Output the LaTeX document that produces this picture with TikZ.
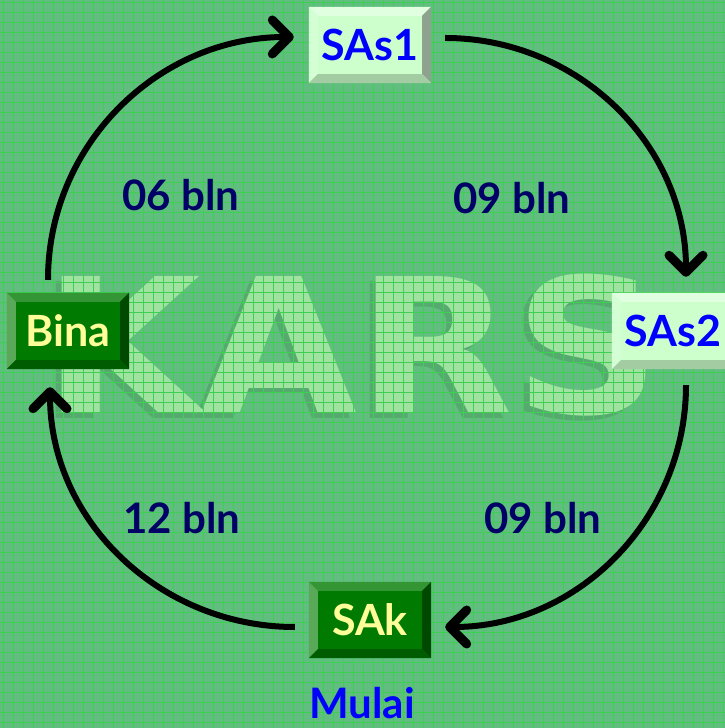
\documentclass[tikz,border=0pt]{standalone}
\usepackage{fontspec}
\setmainfont{Lato}
\newfontfamily\karsfont{DejaVu Sans}
\usetikzlibrary{arrows.meta, positioning}
\definecolor{monFond}{RGB}{98,190,128}
\definecolor{monGrille}{RGB}{62,208,82}
\definecolor{monKars}{RGB}{160,226,160}
\definecolor{monOmbre}{RGB}{86,170,112}
\definecolor{monTua}{RGB}{0,122,0}
\definecolor{monPucat}{RGB}{204,255,204}
\definecolor{monBiru}{RGB}{0,0,255}
\definecolor{monKuning}{RGB}{255,255,153}
\definecolor{monMarine}{RGB}{0,0,102}

% bevel round a box: node, top, left, right, bottom
\newcommand{\bevelbox}[5]{%
  \fill[#2] (#1.north west) -- (#1.north east) -- ([shift={(-9pt,-9pt)}]#1.north east) -- ([shift={(9pt,-9pt)}]#1.north west) -- cycle;
  \fill[#3] (#1.north west) -- ([shift={(9pt,-9pt)}]#1.north west) -- ([shift={(9pt,9pt)}]#1.south west) -- (#1.south west) -- cycle;
  \fill[#4] (#1.north east) -- (#1.south east) -- ([shift={(-9pt,9pt)}]#1.south east) -- ([shift={(-9pt,-9pt)}]#1.north east) -- cycle;
  \fill[#5] (#1.south west) -- ([shift={(9pt,9pt)}]#1.south west) -- ([shift={(-9pt,9pt)}]#1.south east) -- (#1.south east) -- cycle;
}

\begin{document}
\begin{tikzpicture}[x=1pt, y=1pt,
    box/.style={minimum width=122pt, minimum height=76pt, inner sep=0pt,
      font=\fontsize{43}{43}\selectfont\bfseries},
    lightbox/.style={box, fill=monPucat, text=monBiru},
    darkbox/.style={box, fill=monTua, text=monKuning},
    label/.style={text=monMarine, font=\fontsize{42}{42}\selectfont\bfseries},
    watermark/.style={font=\karsfont\fontsize{188}{188}\selectfont\bfseries, xscale=1.08},
    cyc/.style={line width=6pt, -{Straight Barb[length=17pt, width=34pt, line width=9pt, round]}}]
        % Fond
        \fill[monFond] (0,0) rectangle (725,728);
        \useasboundingbox (0,0) rectangle (725,728);

        % Filigrane
        \node[watermark, text=monOmbre] (karsB) at (346,378) {KARS};
        \node[watermark, text=monKars] (kars) at (352,383) {KARS};

        % Grille
        \begin{scope}
          \clip (0,0) rectangle (725,728);
          \draw[monGrille, line width=1pt, shift={(3,5)}] (-10,-10) grid[step=10pt] (730,730);
        \end{scope}

        % Boites
        \node[lightbox] (SAs1) at (370,683) {SAs1};
        \bevelbox{SAs1}{monPucat!60!white}{monPucat!85!white}{monPucat!55!black!80}{monPucat!80!black}
        \node[lightbox] (SAs2) at (673,397) {SAs2};
        \bevelbox{SAs2}{monPucat!60!white}{monPucat!85!white}{monPucat!55!black!80}{monPucat!80!black}
        \node[darkbox] (Bina) at (68,397) {Bina};
        \bevelbox{Bina}{monTua!80!white}{monTua!65!white}{monTua!60!black}{monTua!75!black}
        \node[darkbox] (SAk) at (370,108) {SAk};
        \bevelbox{SAk}{monTua!80!white}{monTua!65!white}{monTua!60!black}{monTua!75!black}

        \node[text=monBiru, font=\fontsize{42}{42}\selectfont\bfseries] (mulai) at (362,25) {Mulai};

        % Siklus
        \draw[cyc] ([shift={(-20pt,13pt)}]Bina.north) to[out=90, in=180] ([shift={(-15pt,8pt)}]SAs1.west);
        \draw[cyc] ([shift={(14pt,7pt)}]SAs1.east) to[out=0, in=90] ([shift={(13pt,16pt)}]SAs2.north);
        \draw[cyc] ([shift={(13pt,-16pt)}]SAs2.south) to[out=-90, in=0] ([shift={(14pt,-7pt)}]SAk.east);
        \draw[cyc] ([shift={(-14pt,-7pt)}]SAk.west) to[out=180, in=-90] ([shift={(-18pt,-18pt)}]Bina.south);

        % Durasi
        \node[label] (d1) at (181,533) {06 bln};
        \node[label] (d2) at (512,530) {09 bln};
        \node[label] (d3) at (543,210) {09 bln};
        \node[label] (d4) at (182,210) {12 bln};
    \end{tikzpicture}
\end{document}
